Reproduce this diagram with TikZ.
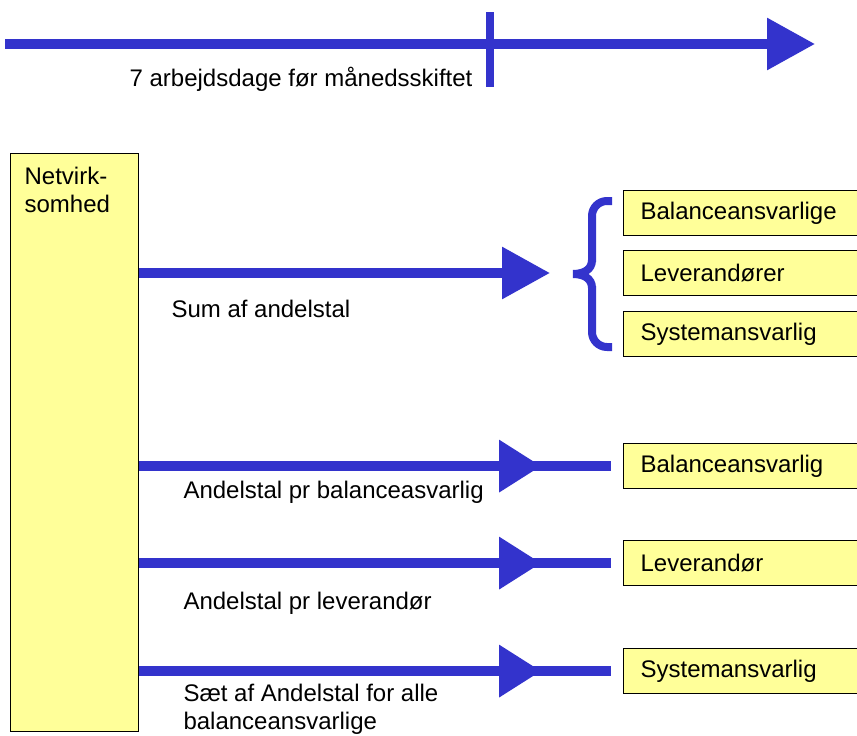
\documentclass[tikz,border=0pt]{standalone}
\usepackage{fontspec}
\setmainfont{Liberation Sans}
\usetikzlibrary{arrows.meta,decorations.markings}
\definecolor{pilblaa}{HTML}{3333CC}
\definecolor{gul}{HTML}{FFFF99}
\tikzset{
  pil/.style={draw=pilblaa, line width=9.5pt},
  spids/.style={-{Triangle[length=48pt,width=50pt]}},
  midtspids/.style={postaction={decorate}, decoration={markings,
    mark=at position #1 with {\arrow[pilblaa]{Triangle[length=42pt,width=50pt]}}}},
  tekst/.style={font=\fontsize{24}{28}\selectfont, anchor=base west, align=left},
  boks/.style={draw=black, line width=1.2pt, fill=gul, anchor=north west,
    font=\fontsize{24}{28}\selectfont, inner xsep=17pt, inner ysep=0pt,
    text width=216pt, align=left, minimum height=45pt}
}
\begin{document}
\begin{tikzpicture}[x=1pt,y=-1pt]
  \clip (0,0) rectangle (857,736);
  % tidslinje
  \coordinate (start) at (5,44);
  \coordinate (slut) at (815,44);
  \draw[pil, spids] (start) -- (slut);
  \coordinate (frist1) at (490,12);
  \coordinate (frist2) at (490,87);
  \draw[pilblaa, line width=8pt] (frist1) -- (frist2);
  \node[tekst, anchor=base east] (frist) at (476,86) {7 arbejdsdage før månedsskiftet};

  % netvirksomhed
  \node[draw=black, line width=1.2pt, fill=gul, anchor=north west, inner xsep=14pt, inner ysep=14pt,
    font=\fontsize{24}{28}\selectfont] (net) at (10,153)
    {\parbox[t][550pt][t]{100pt}{Netvirk-\\somhed}};

  % modtagere
  \node[boks] (bal) at (623,190) {Balanceansvarlige};
  \node[boks] (lev) at (623,250) {Leverandører};
  \node[boks] (sys) at (623,311) {Systemansvarlig};
  \node[boks] (bal2) at (623,443) {Balanceansvarlig};
  \node[boks] (lev2) at (623,540) {Leverandør};
  \node[boks] (sys2) at (623,648) {Systemansvarlig};

  % tuborg
  \draw[pilblaa, line width=8pt, rounded corners=15pt]
    (612,201) -- (592,201) -- (592,262);
  \draw[pilblaa, line width=8pt]
    (592,260) .. controls (592,270) and (583,274) .. (573,274)
    .. controls (583,274) and (592,278) .. (592,288);
  \draw[pilblaa, line width=8pt, rounded corners=15pt]
    (592,286) -- (592,347) -- (612,347);
  \coordinate (tuborg) at (550,273);

  % pile
  \draw[pil, spids] (net.east |- tuborg) -- (tuborg);
  \draw[pil, midtspids=402pt] (net.east |- bal2.west) -- ([xshift=-12pt]bal2.west);
  \draw[pil, midtspids=402pt] (net.east |- lev2.west) -- ([xshift=-12pt]lev2.west);
  \draw[pil, midtspids=402pt] (net.east |- sys2.west) -- ([xshift=-12pt]sys2.west);

  % tekster
  \node[tekst] (sum) at (168,317) {Sum af andelstal};
  \node[tekst] (ab) at (180,498) {Andelstal pr balanceasvarlig};
  \node[tekst] (al) at (180,609) {Andelstal pr leverandør};
  \node[tekst, anchor=north west] (aa) at (180,681) {Sæt af Andelstal for alle\\balanceansvarlige};
\end{tikzpicture}
\end{document}
